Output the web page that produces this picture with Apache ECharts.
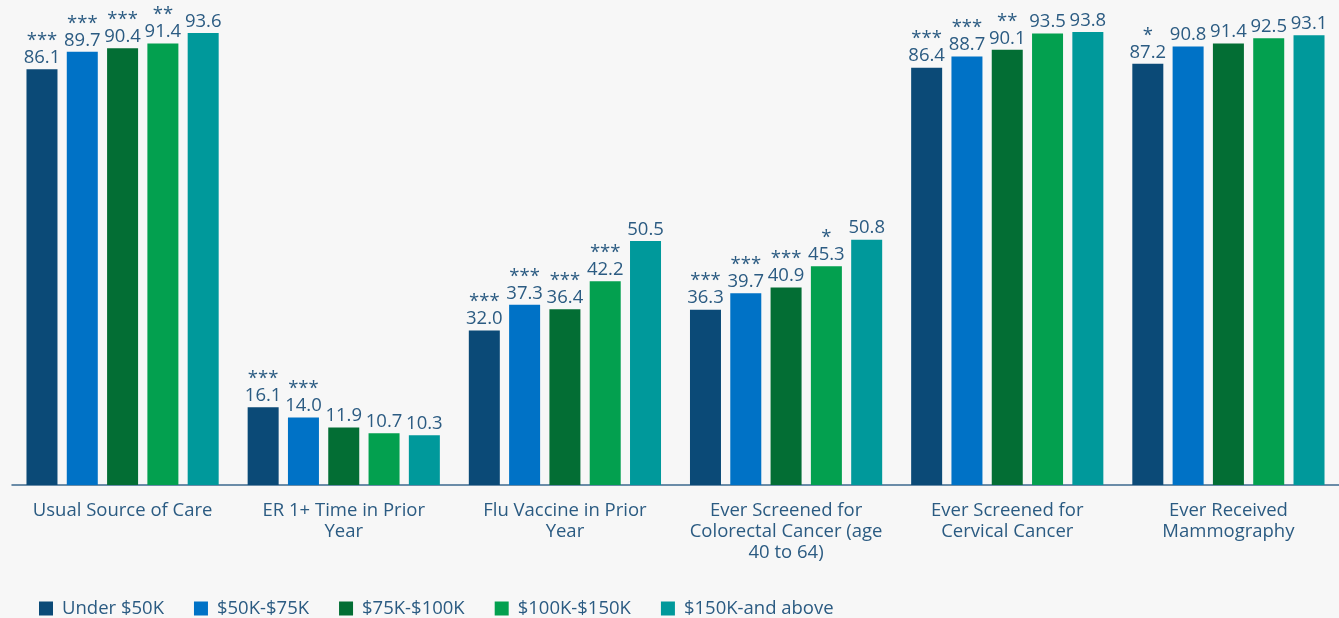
<!DOCTYPE html>
<html>
<head>
<meta charset="utf-8">
<script src="https://cdn.jsdelivr.net/npm/echarts@6/dist/echarts.min.js"></script>
<style>
html,body{margin:0;padding:0;background:#f7f7f7;}
#chart{width:1339px;height:618px;}
</style>
</head>
<body>
<div id="chart"></div>
<script>
var categories = ["Usual Source of Care", "ER 1+ Time in Prior Year", "Flu Vaccine in Prior Year", "Ever Screened for Colorectal Cancer (age 40 to 64)", "Ever Screened for Cervical Cancer", "Ever Received Mammography"];
var tickLabels = ["Usual Source of Care", "ER 1+ Time in Prior\nYear", "Flu Vaccine in Prior\nYear", "Ever Screened for\nColorectal Cancer (age\n40 to 64)", "Ever Screened for\nCervical Cancer", "Ever Received\nMammography"];
var seriesNames = ["Under $50K", "$50K-$75K", "$75K-$100K", "$100K-$150K", "$150K-and above"];
var under50 = [86.1, 16.1, 32.0, 36.3, 86.4, 87.2];
var k50to75 = [89.7, 14.0, 37.3, 39.7, 88.7, 90.8];
var k75to100 = [90.4, 11.9, 36.4, 40.9, 90.1, 91.4];
var k100to150 = [91.4, 10.7, 42.2, 45.3, 93.5, 92.5];
var k150up = [93.6, 10.3, 50.5, 50.8, 93.8, 93.1];
var stars0 = ["***", "***", "***", "***", "***", "*"];
var stars1 = ["***", "***", "***", "***", "***", ""];
var stars2 = ["***", "", "***", "***", "**", ""];
var stars3 = ["**", "", "***", "*", "", ""];
var stars4 = ["", "", "", "", "", ""];

var values = [under50, k50to75, k75to100, k100to150, k150up];
var stars = [stars0, stars1, stars2, stars3, stars4];
var colors = ["#0b4a77", "#0072c6", "#036e34", "#03a04f", "#00999b"];
var textColor = "#2b5b82";
var font = "'Open Sans', 'Noto Sans', sans-serif";
var fs = 18.5;

var series = values.map(function (vals, i) {
  return {
    name: seriesNames[i],
    type: 'bar',
    barWidth: 31,
    barGap: '30%',
    itemStyle: { color: colors[i] },
    data: vals,
    label: {
      show: true,
      position: 'top',
      distance: 1,
      formatter: function (p) {
        var s = stars[i][p.dataIndex];
        var v = p.value.toFixed(1);
        return s ? '{s|' + s + '}\n{v|' + v + '}' : '{v|' + v + '}';
      },
      rich: {
        s: { fontSize: fs, color: textColor, fontFamily: font, lineHeight: 13 },
        v: { fontSize: fs, color: textColor, fontFamily: font, lineHeight: 21 }
      }
    }
  };
});

var chart = echarts.init(document.getElementById('chart'));
chart.setOption({
  backgroundColor: '#f7f7f7',
  animation: false,
  grid: { left: 12, right: 0, top: 2, bottom: 133, containLabel: false },
  xAxis: {
    type: 'category',
    data: categories,
    axisLine: { show: true, lineStyle: { color: '#3d6a8e', width: 1.5 } },
    axisTick: { show: false },
    axisLabel: {
      interval: 0,
      margin: 15,
      fontSize: fs,
      lineHeight: 21,
      color: textColor,
      fontFamily: font,
      formatter: function (v, idx) { return tickLabels[idx]; }
    }
  },
  yAxis: {
    type: 'value',
    min: 0,
    max: 100,
    show: false,
    splitLine: { show: false }
  },
  legend: {
    left: 34,
    top: 594,
    itemWidth: 14,
    itemHeight: 14,
    itemGap: 30,
    icon: 'rect',
    textStyle: { fontSize: fs, color: textColor, fontFamily: font, padding: [0, 0, 0, 4] },
    data: seriesNames
  },
  series: series
});
</script>
</body>
</html>
